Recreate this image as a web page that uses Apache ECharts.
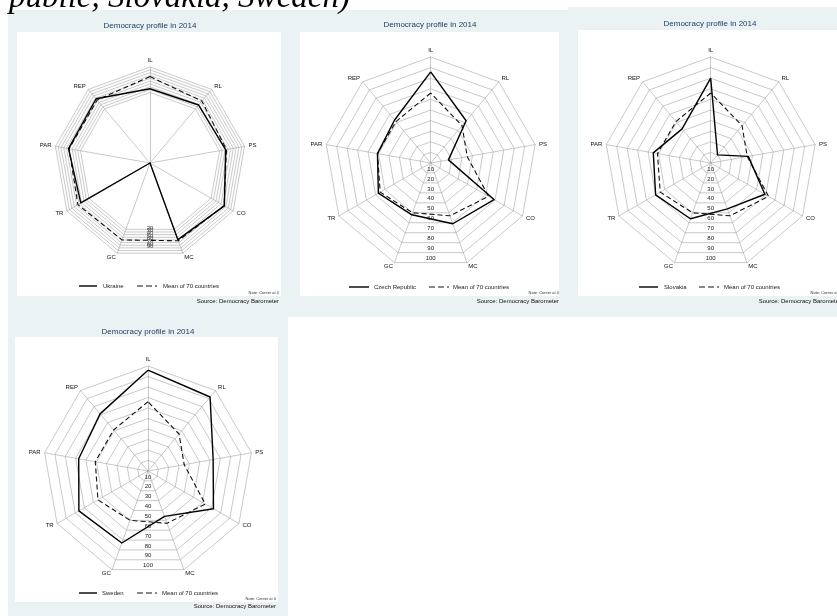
<!DOCTYPE html>
<html><head><meta charset="utf-8">
<script src="https://cdn.jsdelivr.net/npm/echarts@6/dist/echarts.min.js"></script>
<style>html,body{margin:0;padding:0;background:#fff}#c{width:837px;height:616px}</style>
</head><body><div id="c"></div>
<script>
// ---- data ----
const axes = ['IL','RL','PS','CO','MC','GC','TR','PAR','REP'];
const ringTicks = [10,20,30,40,50,60,70,80,90,100];
const meanValues = [66,46,35,63,53,50,55,51,51];
const ukraineValues = [23,28,32,64,49,-240,43,53,57];
const czechValues = [86,52,17,69,61,52,57,51,53];
const slovakiaValues = [80,10,36,59,46,56,60,55,42];
const swedenValues = [96,92,63,72,46,73,76,67,71];
const titleText = 'Democracy profile in 2014';
const meanLabel = 'Mean of 70 countries';
const noteText = 'Note: Center at 0';
const sourceText = 'Source: Democracy Barometer';
const headerText = 'public, Slovakia, Sweden)';

// ---- layout ----
const FONT = '"Liberation Sans", Arial, sans-serif';
const GRID = '#a4a4a4';
const BG = '#eaf2f3';
const TITLE_C = '#1c3a5e';
const panels = [
  {name:'Ukraine', values:ukraineValues, center:[150,163], r:96, plot:[17,32,264,264], title:[150,26],
   leg:[79,97,103,137,157,163,286], right:279, noteY:292.5, srcY:301},
  {name:'Czech Republic', values:czechValues, center:[430.7,163], r:106, plot:[300,32,259,264], title:[430,25],
   leg:[349,369,374,429,449,453,287], right:559, noteY:293, srcY:301},
  {name:'Slovakia', values:slovakiaValues, center:[710.7,163], r:106, plot:[578,30,263,266], title:[710,24],
   leg:[639,658,664,699,719,724,287], right:841, noteY:293, srcY:301},
  {name:'Sweden', values:swedenValues, center:[148,471], r:105, plot:[15,337,263,265], title:[148,332],
   leg:[79,97,102,137,157,162,593], right:276, noteY:599, srcY:606}
];
panels.forEach(p => { p.min = Math.min(0, ...p.values); });

// radar indicators run counter-clockwise in ECharts: IL, REP, PAR, ... RL
const order = [0,8,7,6,5,4,3,2,1];
const ccw = arr => order.map(i => arr[i]);
const COS20 = Math.cos(Math.PI/9);

const radar = panels.map(p => ({
  center: p.center, radius: p.r, startAngle: 90, shape: 'polygon', splitNumber: 10,
  indicator: ccw(axes).map(n => ({name: n, min: p.min, max: 100})),
  axisName: {color:'#111', fontSize:6, fontFamily: FONT},
  nameGap: 4,
  splitLine: {show:false}, splitArea: {show:false},
  axisLine: {lineStyle:{color: GRID, width: 0.6}},
  axisTick: {show:false}, axisLabel: {show:false}
}));

const series = [];
panels.forEach((p, i) => {
  series.push({
    type:'radar', radarIndex:i, silent:true, symbol:'none', z:1, emphasis:{disabled:true},
    lineStyle:{color: GRID, width: 0.6},
    data: ringTicks.map(t => ({value: axes.map(() => t)}))
  });
  series.push({
    type:'radar', radarIndex:i, symbol:'none', z:3, emphasis:{disabled:true},
    data: [
      {name: meanLabel, value: ccw(meanValues), lineStyle:{color:'#111', width:1.1, type:[5,3]}},
      {name: p.name, value: ccw(p.values), lineStyle:{color:'#000', width:1.4}}
    ]
  });
});

const polar = panels.map(p => ({center: p.center, radius: p.r * COS20}));
const angleAxis = panels.map((p, i) => ({polarIndex:i, type:'value', startAngle:270, min:0, max:360, show:false}));
const radiusAxis = panels.map((p, i) => ({
  polarIndex:i, type:'value', min:p.min, max:100,
  axisLine:{show:false}, axisTick:{show:false}, splitLine:{show:false},
  axisLabel:{customValues: ringTicks, margin:0, align:'center', verticalAlign:'bottom',
    fontSize:6, color:'#222', fontFamily: FONT, padding:[0,0,1,0]}
}));

const els = [
  {type:'rect', shape:{x:8, y:10, width:829, height:307}, style:{fill:BG}, z:-10, silent:true},
  {type:'rect', shape:{x:568, y:7, width:269, height:5}, style:{fill:BG}, z:-10, silent:true},
  {type:'rect', shape:{x:8, y:317, width:280, height:299}, style:{fill:BG}, z:-10, silent:true},
  {type:'text', x:9, y:-2, z:10, silent:true,
   style:{text: headerText, font:'italic 33px "Liberation Serif", "Times New Roman", serif', fill:'#000', align:'left', verticalAlign:'middle'}}
];
panels.forEach(p => {
  const [px, py, pw, ph] = p.plot;
  const L = p.leg;
  els.push(
    {type:'rect', shape:{x:px, y:py, width:pw, height:ph}, style:{fill:'#fff'}, z:-9, silent:true},
    {type:'text', x:p.title[0], y:p.title[1], z:10, silent:true,
     style:{text:titleText, font:'8px '+FONT, fill:TITLE_C, align:'center', verticalAlign:'middle'}},
    {type:'line', shape:{x1:L[0], y1:L[6], x2:L[1], y2:L[6]}, style:{stroke:'#000', lineWidth:1.4}, z:10, silent:true},
    {type:'text', x:L[2], y:L[6], z:10, silent:true,
     style:{text:p.name, font:'6px '+FONT, fill:'#222', align:'left', verticalAlign:'middle'}},
    {type:'line', shape:{x1:L[3], y1:L[6], x2:L[4], y2:L[6]}, style:{stroke:'#111', lineWidth:1.1, lineDash:[6,3]}, z:10, silent:true},
    {type:'text', x:L[5], y:L[6], z:10, silent:true,
     style:{text:meanLabel, font:'6px '+FONT, fill:'#222', align:'left', verticalAlign:'middle'}},
    {type:'text', x:p.right, y:p.noteY, z:10, silent:true,
     style:{text:noteText, font:'4px '+FONT, fill:'#333', align:'right', verticalAlign:'middle'}},
    {type:'text', x:p.right, y:p.srcY, z:10, silent:true,
     style:{text:sourceText, font:'6px '+FONT, fill:'#111', align:'right', verticalAlign:'middle'}}
  );
});

const chart = echarts.init(document.getElementById('c'), null, {renderer:'canvas', width:837, height:616});
chart.setOption({
  animation:false,
  backgroundColor:'#ffffff',
  radar, polar, angleAxis, radiusAxis, series,
  graphic:{elements: els}
});
</script></body></html>
